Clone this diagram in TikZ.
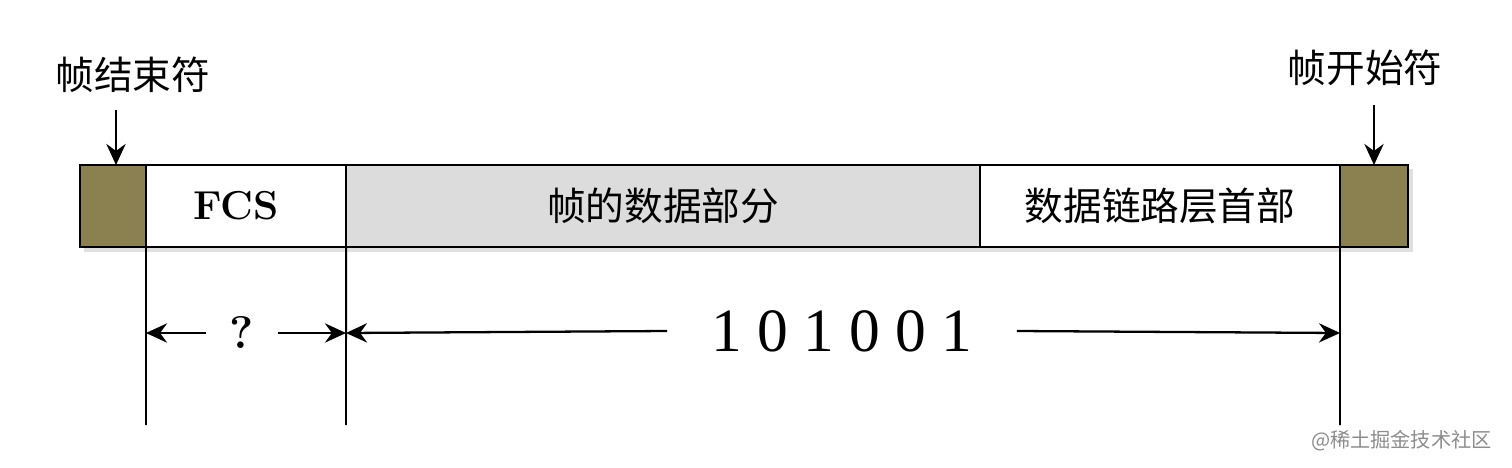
\documentclass[tikz,border=0pt]{standalone}
\usepackage{fontspec}
\newfontfamily\cjk{Noto Sans CJK SC}
\newfontfamily\bitfont{Liberation Serif}
\usetikzlibrary{arrows.meta}
\definecolor{flagbrown}{RGB}{138,128,80}
\definecolor{datagray}{RGB}{220,220,220}
\tikzset{
  field/.style={draw, line width=1.1pt, outer sep=0pt, minimum height=1.64cm, inner sep=0pt},
  cjklabel/.style={font=\cjk\fontsize{22}{24}\selectfont},
  dimarrow/.style={-{Stealth[length=12pt,width=11pt,inset=4pt]}, line width=1.3pt},
}
\begin{document}
\begin{tikzpicture}[x=0.02cm, y=-0.02cm]
\useasboundingbox (0,0) rectangle (1512,467);
% shadow of the frame
\fill[black!12] (84,169) rectangle (1413,252);
% the frame fields
\node[field, fill=flagbrown, minimum width=1.32cm] (eof) at (113,206) {};
\node[field, fill=white, minimum width=4cm] (fcs) at (246,206) {};
\node[font=\bfseries\fontsize{23}{25}\selectfont] (fcstext) at (236,206) {FCS};
\node[field, fill=datagray, minimum width=12.68cm, cjklabel] (data) at (663,206) {帧的数据部分};
\node[field, fill=white, minimum width=7.2cm, cjklabel] (hdr) at (1160,206) {数据链路层首部};
\node[field, fill=flagbrown, minimum width=1.36cm] (sof) at (1374,206) {};
% labels of the flags
\node[cjklabel] (eoflabel) at (133,75) {帧结束符};
\node[cjklabel] (soflabel) at (1365,68) {帧开始符};
\coordinate (eoftop) at (116,110);
\coordinate (softop) at (1374,105);
\draw[dimarrow] (eoftop)--(eoftop|-eof.north);
\draw[dimarrow] (softop)--(sof.north);
% extension lines
\coordinate (e1) at (146,425);
\coordinate (e2) at (346,425);
\coordinate (e3) at (1340,425);
\draw[line width=1.1pt] (fcs.south west)--(e1);
\draw[line width=1.1pt] (data.south west)--(e2);
\draw[line width=1.1pt] (sof.south west)--(e3);
% dimensions
\coordinate (a1) at (146,333);
\coordinate (a2) at (346,333);
\coordinate (a3) at (1340,333);
\node[font=\bfseries\fontsize{26}{28}\selectfont] (q) at (242,333) {?};
\node[font=\bitfont\fontsize{35}{37}\selectfont] (bits) at (842,331) {1 0 1 0 0 1};
\draw[dimarrow] (q.west)++(-18,0)--(a1);
\draw[dimarrow] (q.east)++(18,0)--(a2);
\draw[dimarrow] (bits.west)++(-38,0)--(a2);
\draw[dimarrow] (bits.east)++(38,0)--(a3);
\node[font=\cjk\fontsize{11.5}{13}\selectfont, text=black!45, anchor=east] (mark) at (1498,441) {@稀土掘金技术社区};
\end{tikzpicture}
\end{document}
